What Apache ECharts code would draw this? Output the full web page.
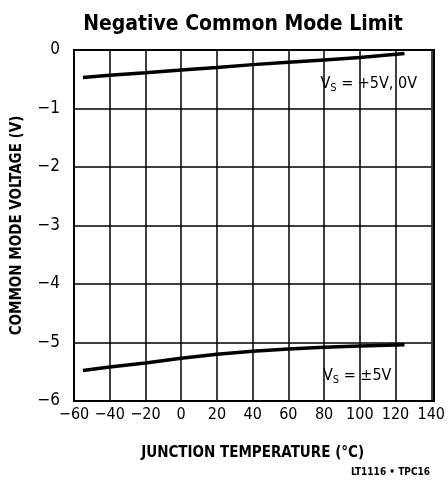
<!DOCTYPE html>
<html>
<head>
<meta charset="utf-8">
<script src="https://cdn.jsdelivr.net/npm/echarts@6/dist/echarts.min.js"></script>
<style>
  html, body { margin: 0; padding: 0; background: #fff; }
  #chart { width: 448px; height: 484px; }
</style>
</head>
<body>
<div id="chart"></div>
<script>
// junction temperature (°C)
const temps = [-55, -40, -20, 0, 20, 40, 60, 80, 100, 125];
// Vs = +5V, 0V
const vSingle = [-0.47, -0.43, -0.39, -0.34, -0.30, -0.25, -0.21, -0.17, -0.13, -0.06];
// Vs = ±5V
const vSplit = [-5.48, -5.42, -5.35, -5.27, -5.20, -5.15, -5.11, -5.08, -5.06, -5.04];

const font = '"DejaVu Sans Condensed", "Liberation Sans Narrow", sans-serif';
const minus = (v) => String(v).replace('-', '\u2212');

const chart = echarts.init(document.getElementById('chart'));

const lineSeries = (data) => ({
    type: 'line',
    data: temps.map((t, i) => [t, data[i]]),
    showSymbol: false,
    lineStyle: { color: '#000', width: 3.5 },
    silent: true
});

const rich = {
    v: { fontFamily: font, fontSize: 16, fill: '#000' },
    s: { fontFamily: font, fontSize: 11, fill: '#000', padding: [9, 0, 0, 0] }
};

chart.setOption({
    animation: false,
    title: {
        text: 'Negative Common Mode Limit',
        left: 238,
        textAlign: 'center',
        top: 9,
        textStyle: { fontFamily: font, fontWeight: 'bold', fontSize: 21, color: '#000' }
    },
    grid: { left: 74, right: 14, top: 50, bottom: 83 },
    xAxis: {
        type: 'value',
        min: -60,
        max: 140,
        interval: 20,
        name: 'JUNCTION TEMPERATURE (°C)',
        nameLocation: 'middle',
        nameGap: 45,
        nameTextStyle: { fontFamily: font, fontWeight: 'bold', fontSize: 15, color: '#000' },
        axisLine: { show: true, onZero: false, lineStyle: { color: '#000', width: 2 } },
        axisTick: { show: false },
        axisLabel: { fontFamily: font, fontSize: 16, color: '#000', margin: 6, formatter: minus },
        splitLine: { show: true, lineStyle: { color: '#000', width: 1.5 } }
    },
    yAxis: {
        type: 'value',
        min: -6,
        max: 0,
        interval: 1,
        name: 'COMMON MODE VOLTAGE (V)',
        nameLocation: 'middle',
        nameGap: 49,
        nameTextStyle: { fontFamily: font, fontWeight: 'bold', fontSize: 15, color: '#000' },
        axisLine: { show: true, onZero: false, lineStyle: { color: '#000', width: 2 } },
        axisTick: { show: false },
        axisLabel: { fontFamily: font, fontSize: 17, color: '#000', margin: 14, formatter: minus },
        splitLine: { show: true, lineStyle: { color: '#000', width: 1.5 } }
    },
    graphic: [
        {
            type: 'rect',
            shape: { x: 74, y: 50, width: 360, height: 351 },
            style: { fill: 'none', stroke: '#000', lineWidth: 2 },
            silent: true
        },
        {
            type: 'text',
            right: 30,
            top: 74,
            style: {
                text: '{v|V}{s|S}{v| = +5V, 0V}',
                rich: rich,
                backgroundColor: '#fff',
                padding: [0, 1]
            }
        },
        {
            type: 'text',
            left: 322,
            top: 366,
            style: {
                text: '{v|V}{s|S}{v| = ±5V}',
                rich: rich,
                backgroundColor: '#fff',
                padding: [0, 1]
            }
        },
        {
            type: 'text',
            right: 18,
            top: 467,
            style: { text: 'LT1116 • TPC16', fontFamily: font, fontWeight: 'bold', fontSize: 10, fill: '#000' }
        }
    ],
    series: [lineSeries(vSingle), lineSeries(vSplit)]
});

window.addEventListener('resize', function () {
    chart.resize();
});
</script>
</body>
</html>
